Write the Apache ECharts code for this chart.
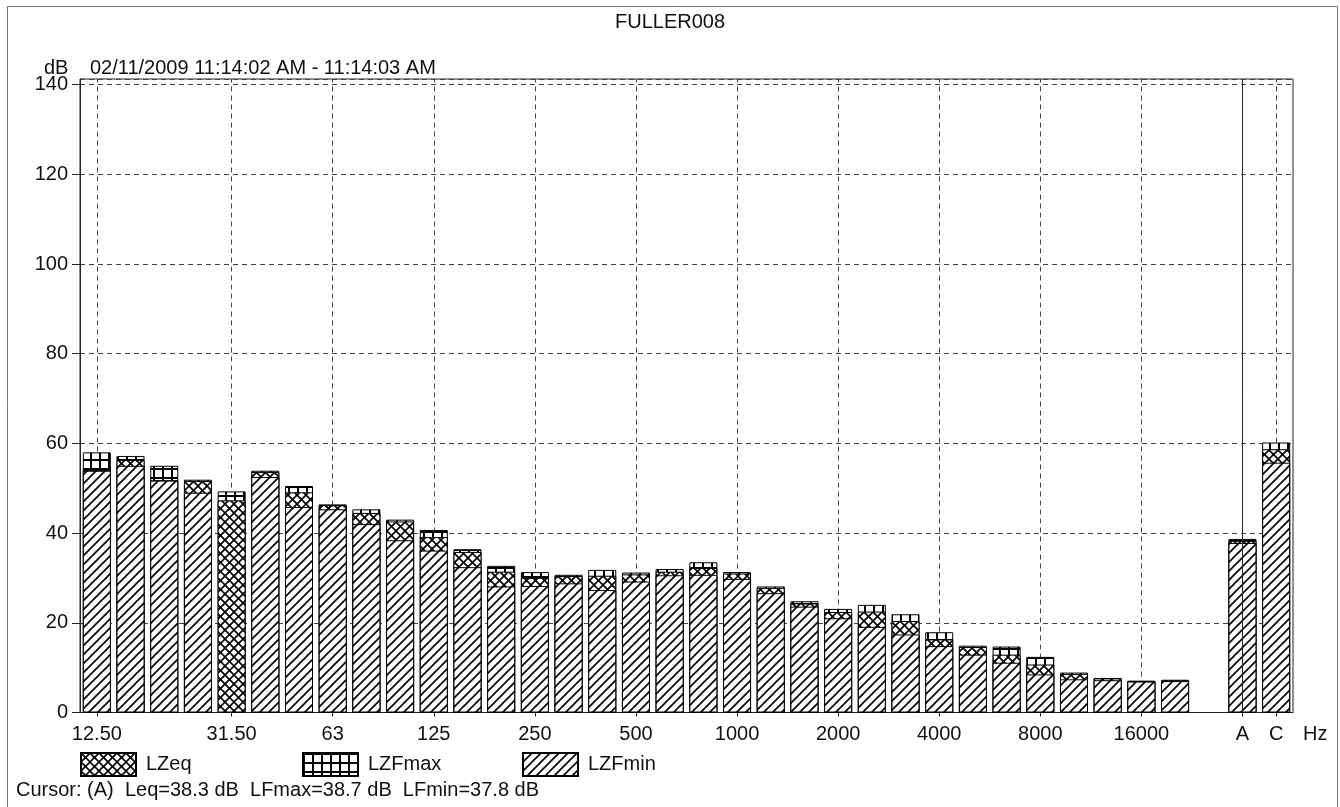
<!DOCTYPE html>
<html>
<head>
<meta charset="utf-8">
<title>FULLER008</title>
<script src="https://cdn.jsdelivr.net/npm/echarts@6/dist/echarts.min.js"></script>
<style>
  html, body { margin: 0; padding: 0; background: #fff; }
  #chart { width: 1340px; height: 807px; }
</style>
</head>
<body>
<div id="chart"></div>
<script>
// 1/3 octave bands, one empty slot, then the A and C weighted totals
const bands = ['12.50', '16', '20', '25', '31.50', '40', '50', '63', '80', '100', '125', '160',
  '200', '250', '315', '400', '500', '630', '800', '1000', '1250', '1600', '2000', '2500',
  '3150', '4000', '5000', '6300', '8000', '10000', '12500', '16000', '20000', '', 'A', 'C'];
const labeledBands = ['12.50', '31.50', '63', '125', '250', '500', '1000', '2000', '4000',
  '8000', '16000', 'A', 'C'];
const gridBands = ['12.50', '31.50', '63', '125', '250', '500', '1000', '2000', '4000',
  '8000', '16000', 'C'];
const cursorBand = 'A';

const lzfMax = [58.0, 57.2, 55.0, 51.9, 49.3, 53.9, 50.5, 46.4, 45.3, 43.0, 40.7, 36.4,
  32.7, 31.3, 30.7, 31.8, 31.2, 32.0, 33.5, 31.3, 28.1, 24.8, 23.1, 24.0,
  21.9, 17.9, 14.9, 14.7, 12.4, 8.9, 7.7, 7.1, 7.3, '-', 38.7, 60.2];
const lzEq = [54.1, 56.3, 51.8, 51.6, 47.3, 53.6, 49.1, 46.2, 44.5, 42.6, 39.1, 35.8,
  31.4, 30.0, 30.4, 30.5, 30.8, 31.4, 32.2, 31.0, 27.8, 24.3, 22.4, 22.5,
  20.4, 16.3, 14.6, 12.9, 10.7, 8.6, 7.6, 7.0, 7.2, '-', 38.3, 58.7];
const lzfMin = [53.9, 55.0, 51.7, 49.0, '-', 52.5, 45.8, 45.3, 42.0, 38.4, 36.1, 32.4,
  28.1, 28.2, 28.8, 27.3, 29.2, 30.6, 30.7, 29.8, 26.6, 23.6, 21.0, 19.1,
  17.4, 14.8, 12.9, 11.1, 8.5, 7.4, 7.2, 6.9, 7.0, '-', 37.8, 55.7];

const yTicks = [0, 20, 40, 60, 80, 100, 120, 140];

const FONT = 'Liberation Sans, Arial, sans-serif';
const INK = '#111';

// hatch patterns drawn on small canvases
function hatch(draw) {
  const c = document.createElement('canvas');
  c.width = 9; c.height = 9;
  const g = c.getContext('2d');
  g.fillStyle = '#fff';
  g.fillRect(0, 0, 9, 9);
  g.strokeStyle = '#000';
  g.fillStyle = '#000';
  g.lineWidth = 1.6;
  draw(g);
  return { image: c, repeat: 'repeat' };
}
function slash(g) {
  g.beginPath();
  g.moveTo(-1, 10); g.lineTo(10, -1);
  g.moveTo(-2, 2); g.lineTo(2, -2);
  g.moveTo(7, 11); g.lineTo(11, 7);
  g.stroke();
}
function backslash(g) {
  g.beginPath();
  g.moveTo(-1, -1); g.lineTo(10, 10);
  g.moveTo(7, -2); g.lineTo(11, 2);
  g.moveTo(-2, 7); g.lineTo(2, 11);
  g.stroke();
}
const minPattern = hatch(slash);
const eqPattern = hatch(g => { slash(g); backslash(g); });
const maxPattern = hatch(g => { g.fillRect(0, 0, 9, 2); g.fillRect(0, 0, 2, 9); });

const idxOf = {};
bands.forEach((b, i) => { idxOf[b] = i; });
const showLabel = (i) => labeledBands.includes(bands[i]);

const ci = idxOf[cursorBand];
const cursorText = 'Cursor: (' + cursorBand + ')  Leq=' + lzEq[ci].toFixed(1) + ' dB  LFmax=' +
  lzfMax[ci].toFixed(1) + ' dB  LFmin=' + lzfMin[ci].toFixed(1) + ' dB';

const txt = (size) => ({ fontSize: size, fontWeight: 'normal', color: INK, fontFamily: FONT });

let chart = echarts.init(document.getElementById('chart'))
let option = {
  animation: false,
  backgroundColor: '#fff',
  textStyle: { fontFamily: FONT },
  graphic: [{
    type: 'rect',
    shape: { x: 7.5, y: 6.5, width: 1330, height: 830 },
    style: { fill: 'none', stroke: '#777', lineWidth: 1 },
    silent: true
  }],
  title: [
    { text: 'FULLER008', left: 'center', top: 12, padding: 0, textStyle: txt(20) },
    { text: 'dB', left: 44, top: 58, padding: 0, textStyle: txt(20) },
    { text: '02/11/2009 11:14:02 AM - 11:14:03 AM', left: 90, top: 58, padding: 0, textStyle: txt(20) },
    { text: cursorText, left: 16, top: 780, padding: 0, textStyle: txt(20) }
  ],
  legend: ['LZeq', 'LZFmax', 'LZFmin'].map((name, k) => ({
    data: [name],
    left: [80, 302, 522][k],
    top: 752,
    padding: 0,
    itemWidth: 55,
    itemHeight: 23,
    selectedMode: false,
    icon: 'rect',
    textStyle: { fontSize: 20, color: INK, fontFamily: FONT, padding: [0, 0, 0, 5] }
  })),
  grid: {
    left: 80, right: 47, top: 79, bottom: 94.5,
    show: true, borderColor: '#222', borderWidth: 1, backgroundColor: 'transparent'
  },
  xAxis: {
    type: 'category',
    data: bands,
    boundaryGap: true,
    name: 'Hz',
    nameLocation: 'end',
    nameGap: 10,
    nameTextStyle: { fontSize: 20, color: INK, fontFamily: FONT, verticalAlign: 'top', padding: [12, 0, 0, 0] },
    axisLine: { lineStyle: { color: '#222', width: 1 } },
    axisTick: { show: true, alignWithLabel: true, interval: showLabel, length: 4, lineStyle: { color: '#222' } },
    axisLabel: { interval: showLabel, margin: 12, fontSize: 20, color: INK, fontFamily: FONT },
    splitLine: { show: false }
  },
  yAxis: {
    type: 'value',
    min: 0,
    max: 141.25,
    interval: 20,
    axisLine: { show: true, lineStyle: { color: '#222' } },
    axisTick: { show: true, length: 8, lineStyle: { color: '#222' } },
    axisLabel: {
      margin: 12, fontSize: 20, color: INK, fontFamily: FONT, showMaxLabel: false,
      formatter: v => (yTicks.includes(v) ? String(v) : '')
    },
    splitLine: { show: true, lineStyle: { color: '#444', type: [5, 4], width: 1 } }
  },
  series: [
    {
      name: 'LZFmax',
      type: 'bar',
      data: lzfMax,
      barWidth: 28,
      barGap: '-100%',
      z: 2,
      itemStyle: { color: maxPattern, borderColor: '#000', borderWidth: 1 },
      markLine: {
        z: 1,
        silent: true,
        symbol: ['none', 'none'],
        label: { show: false },
        lineStyle: { color: '#444', type: [5, 4], width: 1 },
        data: gridBands.map(b => ({ xAxis: b }))
      }
    },
    {
      name: 'LZeq',
      type: 'bar',
      data: lzEq,
      barWidth: 28,
      barGap: '-100%',
      z: 3,
      itemStyle: { color: eqPattern, borderColor: '#000', borderWidth: 1 }
    },
    {
      name: 'LZFmin',
      type: 'bar',
      data: lzfMin,
      barWidth: 28,
      barGap: '-100%',
      z: 4,
      itemStyle: { color: minPattern, borderColor: '#000', borderWidth: 1 },
      markLine: {
        silent: true,
        symbol: ['none', 'none'],
        label: { show: false },
        lineStyle: { color: '#222', type: 'solid', width: 1 },
        data: [{ xAxis: cursorBand }]
      }
    }
  ]
}
chart.setOption(option)
</script>
</body>
</html>
